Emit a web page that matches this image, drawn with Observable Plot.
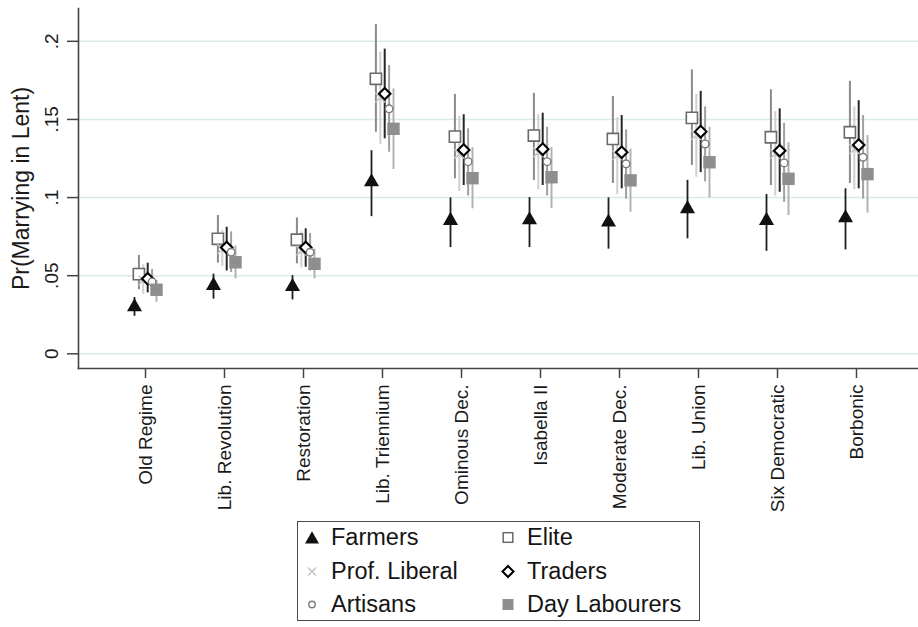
<!DOCTYPE html>
<html>
<head>
<meta charset="utf-8">
<script src="https://cdn.jsdelivr.net/npm/d3@7"></script>
<script src="https://cdn.jsdelivr.net/npm/@observablehq/plot@0.6"></script>
<style>
  html, body { margin: 0; padding: 0; background: #fff; }
  body { width: 918px; height: 627px; overflow: hidden; font-family: "Liberation Sans", Arial, sans-serif; }
  #legend { position: absolute; left: 297px; top: 521px; width: 403px; height: 100px; border: 1.5px solid #4a4a4a; box-sizing: border-box; background: #fff; }
  .item { position: absolute; height: 33px; font-size: 23.5px; color: #151515; white-space: nowrap; }
  .item svg { position: absolute; }
</style>
</head>
<body>
<div id="chart"></div>
<div id="legend"></div>
<script>
// ---- data ----
const periods = ["Old Regime","Lib. Revolution","Restoration","Lib. Triennium","Ominous Dec.","Isabella II","Moderate Dec.","Lib. Union","Six Democratic","Borbonic"];
const seriesNames = ["Farmers","Elite","Prof. Liberal","Traders","Artisans","Day Labourers"];

const farmers   = [0.030, 0.0437, 0.043, 0.110, 0.0853, 0.0857, 0.0842, 0.0928, 0.0853, 0.087];
const farmersLo = [0.024, 0.035, 0.0345, 0.0878, 0.068, 0.068, 0.067, 0.0736, 0.0656, 0.0665];
const farmersHi = [0.036, 0.051, 0.050, 0.130, 0.0998, 0.100, 0.0998, 0.111, 0.102, 0.1056];

const elite   = [0.051, 0.0736, 0.073, 0.176, 0.139, 0.1397, 0.1375, 0.151, 0.1386, 0.1418];
const eliteLo = [0.041, 0.058, 0.0576, 0.1418, 0.112, 0.111, 0.109, 0.1205, 0.1077, 0.109];
const eliteHi = [0.063, 0.0885, 0.087, 0.2107, 0.166, 0.1667, 0.1646, 0.1817, 0.169, 0.1744];

const profLiberal   = [0.047, 0.067, 0.066, 0.164, 0.128, 0.129, 0.127, 0.140, 0.128, 0.131];
const profLiberalLo = [0.038, 0.056, 0.055, 0.134, 0.104, 0.105, 0.102, 0.113, 0.101, 0.105];
const profLiberalHi = [0.057, 0.079, 0.078, 0.193, 0.152, 0.153, 0.151, 0.166, 0.155, 0.158];

const traders   = [0.048, 0.068, 0.068, 0.1664, 0.1305, 0.131, 0.129, 0.1422, 0.130, 0.1337];
const tradersLo = [0.039, 0.053, 0.0554, 0.1376, 0.1077, 0.1077, 0.1056, 0.116, 0.1034, 0.1056];
const tradersHi = [0.058, 0.081, 0.080, 0.195, 0.153, 0.154, 0.1525, 0.168, 0.1568, 0.162];

const artisans   = [0.046, 0.065, 0.065, 0.1568, 0.123, 0.123, 0.1216, 0.1343, 0.1222, 0.1258];
const artisansLo = [0.038, 0.052, 0.053, 0.129, 0.101, 0.101, 0.099, 0.110, 0.097, 0.099];
const artisansHi = [0.054, 0.078, 0.077, 0.1845, 0.144, 0.145, 0.1433, 0.158, 0.1475, 0.1525];

const dayLabourers   = [0.041, 0.0586, 0.0576, 0.144, 0.1124, 0.113, 0.111, 0.1226, 0.112, 0.115];
const dayLabourersLo = [0.033, 0.048, 0.048, 0.118, 0.0928, 0.093, 0.0906, 0.0998, 0.0885, 0.090];
const dayLabourersHi = [0.047, 0.069, 0.067, 0.1695, 0.132, 0.132, 0.131, 0.145, 0.135, 0.1397];

const yTicks = [0, 0.05, 0.1, 0.15, 0.2];
const yTickLabels = ["0", ".05", ".1", ".15", ".2"];

// ---- build table ----
const seriesData = [
  [farmers, farmersLo, farmersHi],
  [elite, eliteLo, eliteHi],
  [profLiberal, profLiberalLo, profLiberalHi],
  [traders, tradersLo, tradersHi],
  [artisans, artisansLo, artisansHi],
  [dayLabourers, dayLabourersLo, dayLabourersHi]
];
const rows = seriesNames.map((name, s) => periods.map((p, i) => ({
  series: name, period: p, value: seriesData[s][0][i], lo: seriesData[s][1][i], hi: seriesData[s][2][i]
})));

// ---- styles (not data) ----
const styles = {
  "Farmers":       {dx: -11,  line: "#1e1e1e", lw: 1.8, symbol: "triangle", r: 5.6, fill: "#111", stroke: "none", sw: 0},
  "Elite":         {dx: -6.6, line: "#8a8a8a", lw: 2,   symbol: "square",   r: 6.3, fill: "#fff", stroke: "#6a6a6a", sw: 1.6},
  "Prof. Liberal": {dx: -2.2, line: "#cfcfcf", lw: 2,   symbol: "times",    r: 4.5, fill: "none", stroke: "#c4c4c4", sw: 1.6},
  "Traders":       {dx: 2.2,  line: "#262626", lw: 2,   symbol: "diamond2", r: 5.2, fill: "#fff", stroke: "#000", sw: 2.1},
  "Artisans":      {dx: 6.6,  line: "#a0a0a0", lw: 2,   symbol: "circle",   r: 3.8, fill: "#fff", stroke: "#7a7a7a", sw: 1.4},
  "Day Labourers": {dx: 11,   line: "#b2b2b2", lw: 2,   symbol: "square",   r: 7.0, fill: "#8e8e8e", stroke: "none", sw: 0}
};

const ruleMarks = seriesNames.map((n, s) => Plot.ruleX(rows[s], {
  x: "period", y1: "lo", y2: "hi", dx: styles[n].dx, stroke: styles[n].line, strokeWidth: styles[n].lw
}));
const dotMarks = seriesNames.map((n, s) => Plot.dot(rows[s], {
  x: "period", y: "value", dx: styles[n].dx, symbol: styles[n].symbol, r: styles[n].r,
  fill: styles[n].fill, stroke: styles[n].stroke, strokeWidth: styles[n].sw
}));

const chart = Plot.plot({
  width: 918,
  height: 521,
  marginLeft: 78,
  marginRight: 0,
  marginTop: 8,
  marginBottom: 153,
  style: {fontFamily: "'Liberation Sans', Arial, sans-serif", background: "#fff", color: "#1a1a1a", overflow: "visible"},
  x: {type: "point", domain: periods, range: [103.3, 898.3]},
  y: {domain: [-0.0094, 0.221]},
  marks: [
    Plot.gridY(yTicks, {stroke: "#dae9eb", strokeOpacity: 1, strokeWidth: 1.6}),
    Plot.frame({anchor: "left", stroke: "#444", strokeWidth: 1.6}),
    Plot.frame({anchor: "bottom", stroke: "#444", strokeWidth: 1.6}),
    Plot.axisY(yTicks, {
      tickSize: 11, tickRotate: -90, tickPadding: 10, fontSize: 19, label: null,
      tickFormat: (d) => yTickLabels[yTicks.indexOf(d)], stroke: "#444", strokeWidth: 1.5
    }),
    Plot.axisX({tickSize: 10, tickRotate: -90, tickPadding: 6, fontSize: 19, label: null, stroke: "#444", strokeWidth: 1.5}),
    Plot.text(["Pr(Marrying in Lent)"], {frameAnchor: "left", textAnchor: "middle", lineAnchor: "middle", rotate: -90, dx: -57, fontSize: 23, fill: "#1a1a1a"}),
    ...ruleMarks,
    ...dotMarks
  ]
});
document.getElementById("chart").appendChild(chart);

// ---- legend ----
const legend = document.getElementById("legend");
const legendPos = [
  ["Farmers", 0, 0], ["Elite", 1, 0],
  ["Prof. Liberal", 0, 1], ["Traders", 1, 1],
  ["Artisans", 0, 2], ["Day Labourers", 1, 2]
];
const legendSym = {
  "Farmers": '<path d="M0,-6.3L7,6L-7,6Z" fill="#111"/>',
  "Elite": '<rect x="-4.8" y="-4.8" width="9.6" height="9.6" fill="#fff" stroke="#6a6a6a" stroke-width="1.5"/>',
  "Prof. Liberal": '<path d="M-4,-4L4,4M-4,4L4,-4" stroke="#c4c4c4" stroke-width="1.5"/>',
  "Traders": '<path d="M0,-5.5L5.5,0L0,5.5L-5.5,0Z" fill="#fff" stroke="#000" stroke-width="2"/>',
  "Artisans": '<circle r="3.2" fill="#fff" stroke="#7a7a7a" stroke-width="1.4"/>',
  "Day Labourers": '<rect x="-5.5" y="-5.5" width="11" height="11" fill="#8e8e8e"/>'
};
for (const [name, col, row] of legendPos) {
  const div = document.createElement("div");
  div.className = "item";
  const left = col === 0 ? -1 : 195;
  div.style.left = left + "px";
  div.style.top = (row * 33.5 - 1) + "px";
  div.innerHTML = `<svg width="30" height="33" style="left:0;top:0" viewBox="-15 -16.5 30 33">${legendSym[name]}</svg>` +
    `<span style="position:absolute;left:34px;line-height:33px;top:0">${name}</span>`;
  legend.appendChild(div);
}
</script>
</body>
</html>
